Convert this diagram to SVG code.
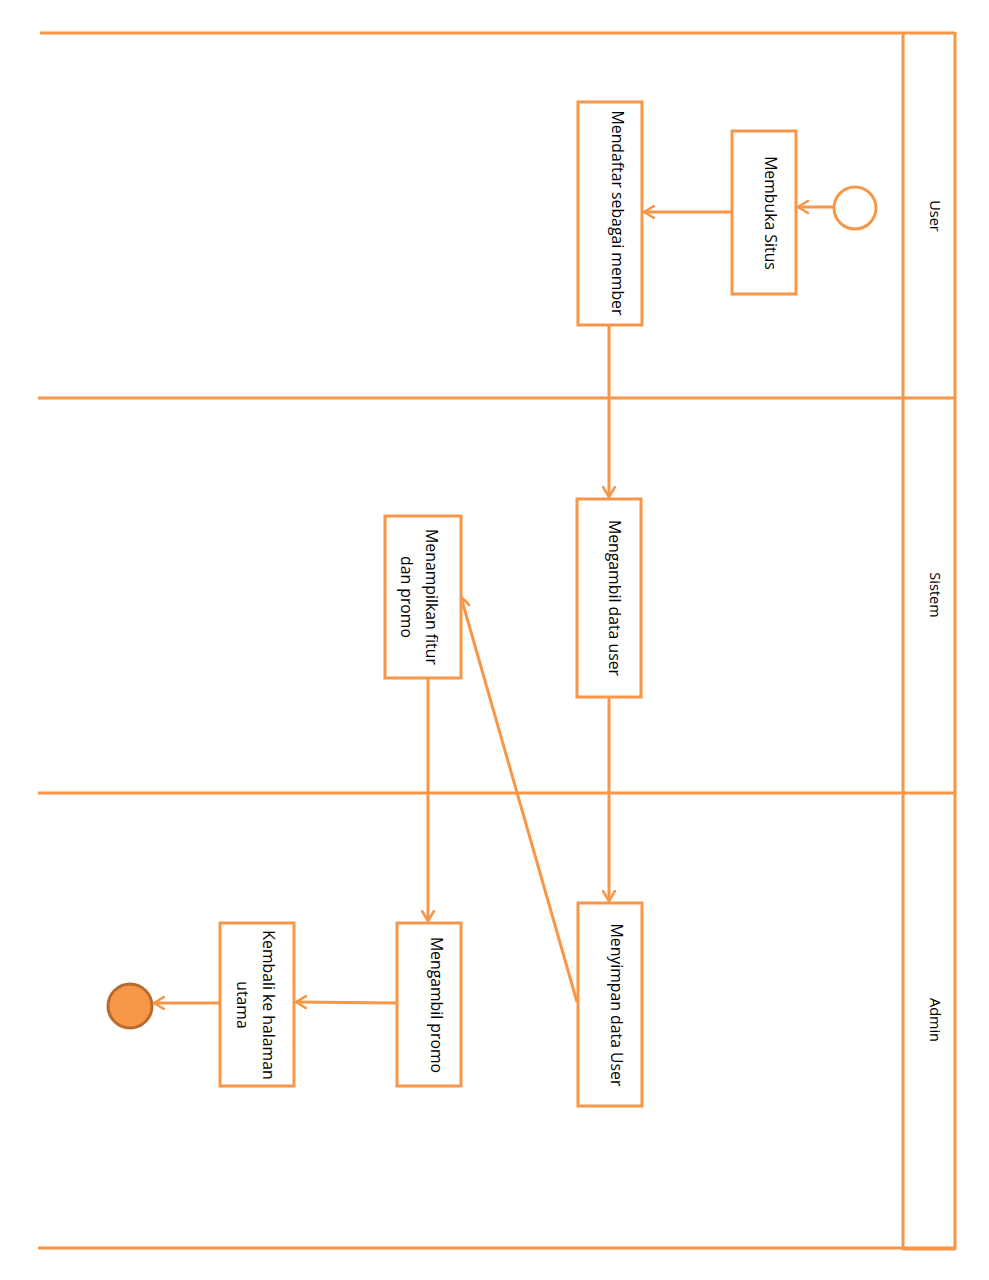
<svg xmlns="http://www.w3.org/2000/svg" width="989" height="1280" viewBox="0 0 989 1280">
  <style>
    .lane { stroke: #F79646; stroke-width: 3; fill: none; }
    .box { fill: #FFFFFF; stroke: #F79646; stroke-width: 3; }
    .flow { stroke: #F79646; stroke-width: 3; fill: none; marker-end: url(#arrow); }
    .lbl { font-family: "Open Sans", "Liberation Sans", sans-serif; font-size: 15.8px; fill: #000000; text-anchor: middle; dominant-baseline: central; }
    .lane-lbl { font-family: "Open Sans", "Liberation Sans", sans-serif; font-size: 14.5px; fill: #000000; text-anchor: middle; dominant-baseline: central; }
  </style>
  <defs>
    <marker id="arrow" viewBox="0 0 12 14" refX="11" refY="7" markerWidth="12" markerHeight="14" markerUnits="userSpaceOnUse" orient="auto">
      <path d="M1,1 L11,7 L1,13" fill="none" stroke="#F79646" stroke-width="2.6" stroke-linecap="round" stroke-linejoin="round"/>
    </marker>
  </defs>
  <rect x="0" y="0" width="989" height="1280" fill="#FFFFFF"/>

  <!-- swimlanes -->
  <g id="lanes">
    <line class="lane" x1="40" y1="33" x2="955" y2="33"/>
    <line class="lane" x1="38" y1="398" x2="955" y2="398"/>
    <line class="lane" x1="38" y1="793" x2="955" y2="793"/>
    <line class="lane" x1="38" y1="1248" x2="955" y2="1248"/>
    <line class="lane" x1="903" y1="33" x2="903" y2="1250"/>
    <line class="lane" x1="955" y1="32" x2="955" y2="1250"/>
    <line class="lane" x1="903" y1="1249" x2="955" y2="1249"/>
    <text class="lane-lbl" x="935" y="216" transform="rotate(90 935 216)">User</text>
    <text class="lane-lbl" x="935" y="595" transform="rotate(90 935 595)">Sistem</text>
    <text class="lane-lbl" x="935" y="1020" transform="rotate(90 935 1020)">Admin</text>
  </g>

  <!-- connectors -->
  <g id="connectors">
    <line class="flow" x1="834" y1="207" x2="798" y2="207"/>
    <line class="flow" x1="732" y1="212" x2="644" y2="212"/>
    <line class="flow" x1="609" y1="325" x2="609" y2="497"/>
    <line class="flow" x1="609" y1="697" x2="609" y2="901"/>
    <line class="flow" x1="577" y1="1002" x2="461" y2="597"/>
    <line class="flow" x1="428" y1="678" x2="428" y2="921"/>
    <line class="flow" x1="396" y1="1003" x2="296" y2="1002"/>
    <line class="flow" x1="220" y1="1003" x2="154" y2="1003"/>
  </g>

  <!-- start -->
  <g id="start">
    <circle cx="855" cy="208" r="21" fill="#FFFFFF" stroke="#F79646" stroke-width="3"/>
  </g>

  <g id="membuka-situs">
    <rect class="box" x="732" y="131" width="64" height="163"/>
    <text class="lbl" x="771" y="213" transform="rotate(90 771 213)">Membuka Situs</text>
  </g>

  <g id="mendaftar">
    <rect class="box" x="578" y="102" width="64" height="223"/>
    <text class="lbl" x="618" y="213" transform="rotate(90 618 213)">Mendaftar sebagai member</text>
  </g>

  <g id="mengambil-data-user">
    <rect class="box" x="577" y="499" width="64" height="198"/>
    <text class="lbl" x="615" y="598" transform="rotate(90 615 598)">Mengambil data user</text>
  </g>

  <g id="menampilkan">
    <rect class="box" x="385" y="516" width="76" height="162"/>
    <text class="lbl" x="432" y="597" transform="rotate(90 432 597)">Menampilkan fitur</text>
    <text class="lbl" x="407" y="597" transform="rotate(90 407 597)">dan promo</text>
  </g>

  <g id="menyimpan">
    <rect class="box" x="578" y="903" width="64" height="203"/>
    <text class="lbl" x="617" y="1005" transform="rotate(90 617 1005)">Menyimpan data User</text>
  </g>

  <g id="mengambil-promo">
    <rect class="box" x="397" y="923" width="64" height="163"/>
    <text class="lbl" x="437" y="1005" transform="rotate(90 437 1005)">Mengambil promo</text>
  </g>

  <g id="kembali">
    <rect class="box" x="220" y="923" width="74" height="163"/>
    <text class="lbl" x="269" y="1005" transform="rotate(90 269 1005)">Kembali ke halaman</text>
    <text class="lbl" x="243" y="1005" transform="rotate(90 243 1005)">utama</text>
  </g>

  <!-- end -->
  <g id="end">
    <circle cx="130" cy="1006" r="22" fill="#F79646" stroke="#B66C30" stroke-width="3"/>
  </g>
</svg>
